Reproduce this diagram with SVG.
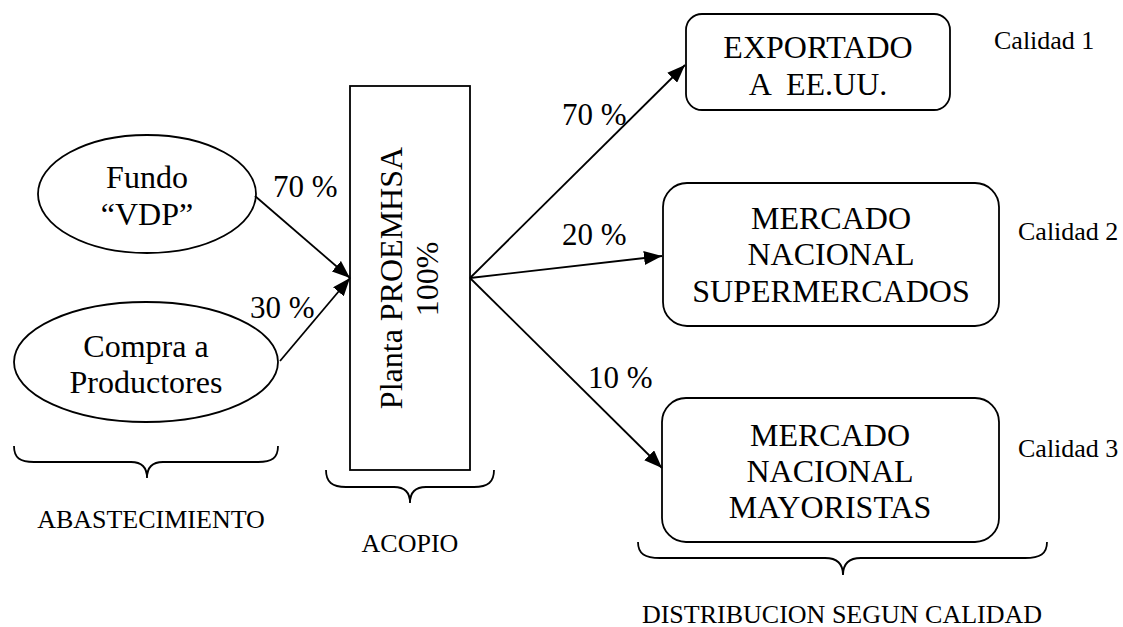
<svg xmlns="http://www.w3.org/2000/svg" width="1123" height="627" viewBox="0 0 1123 627">
<style>
.shape{fill:#fff;stroke:#000;stroke-width:1.8}
.t{font-family:"Liberation Serif","Times New Roman",serif;fill:#000}
.big{font-size:32px;text-anchor:middle}
.pct{font-size:31px}
.sm{font-size:26px}
.con{stroke:#000;stroke-width:1.8;fill:none}
.brace{stroke:#000;stroke-width:1.8;fill:none}
</style>
<defs>
<marker id="ah" markerUnits="userSpaceOnUse" markerWidth="20" markerHeight="14" refX="18" refY="7" orient="auto">
<path d="M0,0 L18,7 L0,14 Z" fill="#000"/>
</marker>
</defs>
<rect width="1123" height="627" fill="#fff"/>
<g id="fundo">
<ellipse class="shape" cx="147" cy="194" rx="109" ry="59"/>
<text class="t big" x="147" y="188">Fundo</text>
<text class="t big" x="147" y="225">“VDP”</text>
</g>
<g id="compra">
<ellipse class="shape" cx="146" cy="362" rx="132" ry="60"/>
<text class="t big" x="146" y="357">Compra a</text>
<text class="t big" x="146" y="393">Productores</text>
</g>
<g id="planta">
<rect class="shape" x="350" y="86" width="120" height="384"/>
<text class="t big" x="402" y="278" transform="rotate(-90 402 278)">Planta PROEMHSA</text>
<text class="t big" x="438" y="279" transform="rotate(-90 438 279)">100%</text>
</g>
<g id="exportado">
<rect class="shape" x="686" y="14" width="264" height="96" rx="16"/>
<text class="t big" x="818" y="58">EXPORTADO</text>
<text class="t big" x="818" y="95" xml:space="preserve">A  EE.UU.</text>
</g>
<g id="supermercados">
<rect class="shape" x="663" y="183" width="336" height="143" rx="24"/>
<text class="t big" x="831" y="229">MERCADO</text>
<text class="t big" x="831" y="265">NACIONAL</text>
<text class="t big" x="831" y="302">SUPERMERCADOS</text>
</g>
<g id="mayoristas">
<rect class="shape" x="662" y="398" width="337" height="144" rx="24"/>
<text class="t big" x="830" y="446">MERCADO</text>
<text class="t big" x="830" y="482">NACIONAL</text>
<text class="t big" x="830" y="518">MAYORISTAS</text>
</g>
<g id="connectors">
<line class="con" x1="255" y1="196" x2="350" y2="278" marker-end="url(#ah)"/>
<line class="con" x1="280" y1="361" x2="350" y2="278" marker-end="url(#ah)"/>
<line class="con" x1="470" y1="278" x2="685" y2="65" marker-end="url(#ah)"/>
<line class="con" x1="470" y1="278" x2="662" y2="256" marker-end="url(#ah)"/>
<line class="con" x1="470" y1="278" x2="662" y2="468" marker-end="url(#ah)"/>
</g>
<g id="labels">
<text class="t pct" x="273" y="197">70 %</text>
<text class="t pct" x="250" y="318">30 %</text>
<text class="t pct" x="562" y="125">70 %</text>
<text class="t pct" x="562" y="245">20 %</text>
<text class="t pct" x="588" y="388">10 %</text>
<text class="t sm" x="994" y="49">Calidad 1</text>
<text class="t sm" x="1018" y="240">Calidad 2</text>
<text class="t sm" x="1018" y="457">Calidad 3</text>
</g>
<g id="braces">
<path class="brace" d="M14,446 C14,458 20,462 34,462 L131,462 Q147,462 147,478 Q147,462 163,462 L258,462 C272,462 278,458 278,446"/>
<path class="brace" d="M326,470 C326,482 332,487 346,487 L394,487 Q410,487 410,503 Q410,487 426,487 L474,487 C488,487 494,482 494,470"/>
<path class="brace" d="M638,542 C638,554 645,558 660,558 L825,558 Q843,558 843,575 Q843,558 861,558 L1025,558 C1040,558 1047,554 1047,542"/>
<text class="t sm" x="151" y="528" text-anchor="middle">ABASTECIMIENTO</text>
<text class="t sm" x="410" y="552" text-anchor="middle">ACOPIO</text>
<text class="t sm" x="842" y="623" text-anchor="middle">DISTRIBUCION SEGUN CALIDAD</text>
</g>
</svg>
